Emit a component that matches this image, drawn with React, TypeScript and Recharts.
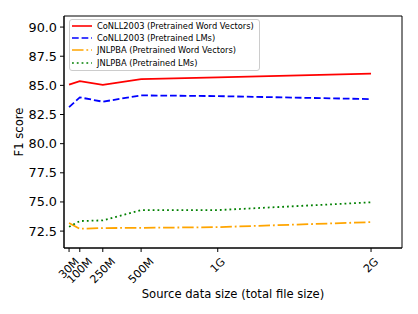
import { LineChart, Line, XAxis, YAxis, Legend, ReferenceArea } from "recharts";

// source data sizes in MB
const sizes = [30, 100, 250, 500, 1000, 2000];
const sizeLabels = ["30M", "100M", "250M", "500M", "1G", "2G"];

const conllWordVec = [85.06, 85.37, 85.05, 85.54, 85.68, 86.0];
const conllLMs = [83.14, 83.97, 83.6, 84.14, 84.08, 83.82];
const jnlpbaWordVec = [73.2, 72.7, 72.76, 72.78, 72.84, 73.27];
const jnlpbaLMs = [72.87, 73.36, 73.42, 74.3, 74.3, 74.97];

const yTicks = [72.5, 75.0, 77.5, 80.0, 82.5, 85.0, 87.5, 90.0];

const X_DOMAIN = [-3, 2202];
const Y_DOMAIN = [71.05, 90.95];

const series = [
  { key: "conllWV", name: "CoNLL2003 (Pretrained Word Vectors)", values: conllWordVec, color: "#ff0000", dash: undefined },
  { key: "conllLM", name: "CoNLL2003 (Pretrained LMs)", values: conllLMs, color: "#0000ff", dash: "6.7 2.9" },
  { key: "jnlpbaWV", name: "JNLPBA (Pretrained Word Vectors)", values: jnlpbaWordVec, color: "#ffa500", dash: "11.5 2.9 1.8 2.9" },
  { key: "jnlpbaLM", name: "JNLPBA (Pretrained LMs)", values: jnlpbaLMs, color: "#008000", dash: "1.8 3" },
];

const data = sizes.map((s, i) => {
  const row: Record<string, number> = { size: s };
  series.forEach((sr) => (row[sr.key] = sr.values[i]));
  return row;
});

const FONT = "DejaVu Sans";

const charWidth = (c: string) => (c === "M" ? 0.863 : c === "G" ? 0.775 : 0.636);

const XTick = (props: any) => {
  const { x, y, payload } = props;
  const label = sizeLabels[sizes.indexOf(payload.value)] ?? "";
  const fs = 11;
  const w = label.split("").reduce((a: number, c: string) => a + charWidth(c), 0) * fs;
  const half = ((w + fs * 0.75) * 0.7071) / 2;
  const cy = y + 3 + half;
  return (
    <text
      x={x}
      y={cy}
      textAnchor="middle"
      dominantBaseline="central"
      transform={`rotate(-45 ${x} ${cy})`}
      fontSize={fs}
      fontFamily={FONT}
      fill="#000"
    >
      {label}
    </text>
  );
};

const LegendBox = () => (
  <div
    style={{
      border: "1px solid #cccccc",
      borderRadius: 3,
      background: "rgba(255,255,255,0.8)",
      padding: "0px 5px 1px 2px",
      fontFamily: FONT,
      fontSize: 8.3,
      color: "#000",
    }}
  >
    {series.map((s) => (
      <div key={s.key} style={{ display: "flex", alignItems: "center", height: 12.2 }}>
        <svg width={20} height={6} style={{ marginRight: 5 }}>
          <line x1={0} y1={3} x2={20} y2={3} stroke={s.color} strokeWidth={1.6} strokeDasharray={s.dash} />
        </svg>
        <span style={{ whiteSpace: "nowrap" }}>{s.name}</span>
      </div>
    ))}
  </div>
);

export default function App() {
  return (
    <div>
      <style>{"body{margin:0;background:#fff}"}</style>
      <LineChart width={418} height={314} data={data} margin={{ top: 16, right: 16, left: 0, bottom: 0 }}>
        <XAxis
          dataKey="size"
          type="number"
          domain={X_DOMAIN}
          ticks={sizes}
          interval={0}
          allowDataOverflow
          height={66}
          stroke="#000"
          tickSize={4}
          tickMargin={2}
          tick={<XTick />}
          label={{
            content: (p: any) => {
              const vb = p.viewBox;
              return (
                <text x={vb.x + vb.width / 2} y={294} textAnchor="middle" dominantBaseline="central" fontSize={11.6} fontFamily={FONT} fill="#000">
                  Source data size (total file size)
                </text>
              );
            },
          }}
        />
        <YAxis
          type="number"
          domain={Y_DOMAIN}
          ticks={yTicks}
          interval={0}
          allowDataOverflow
          width={64}
          stroke="#000"
          tickSize={4}
          tickMargin={3}
          tickFormatter={(v: number) => v.toFixed(1)}
          tick={{ fontSize: 12.8, fontFamily: FONT, fill: "#000" }}
          label={{
            content: (p: any) => {
              const vb = p.viewBox;
              const cy = vb.y + vb.height / 2;
              return (
                <text x={19} y={cy} textAnchor="middle" dominantBaseline="central" transform={`rotate(-90 19 ${cy})`} fontSize={11.6} fontFamily={FONT} fill="#000">
                  F1 score
                </text>
              );
            },
          }}
        />
        {/* plot frame */}
        <ReferenceArea
          x1={X_DOMAIN[0]}
          x2={X_DOMAIN[1]}
          y1={Y_DOMAIN[0]}
          y2={Y_DOMAIN[1]}
          fill="none"
          stroke="#000"
          strokeWidth={1}
          ifOverflow="visible"
        />
        <Legend
          layout="vertical"
          align="center"
          verticalAlign="middle"
          content={<LegendBox />}
          wrapperStyle={{ left: 69, top: 19, width: "auto", height: "auto" }}
        />
        {series.map((s) => (
          <Line
            key={s.key}
            dataKey={s.key}
            name={s.name}
            stroke={s.color}
            strokeWidth={1.8}
            strokeDasharray={s.dash}
            dot={false}
            activeDot={false}
            type="linear"
            isAnimationActive={false}
          />
        ))}
      </LineChart>
    </div>
  );
}
